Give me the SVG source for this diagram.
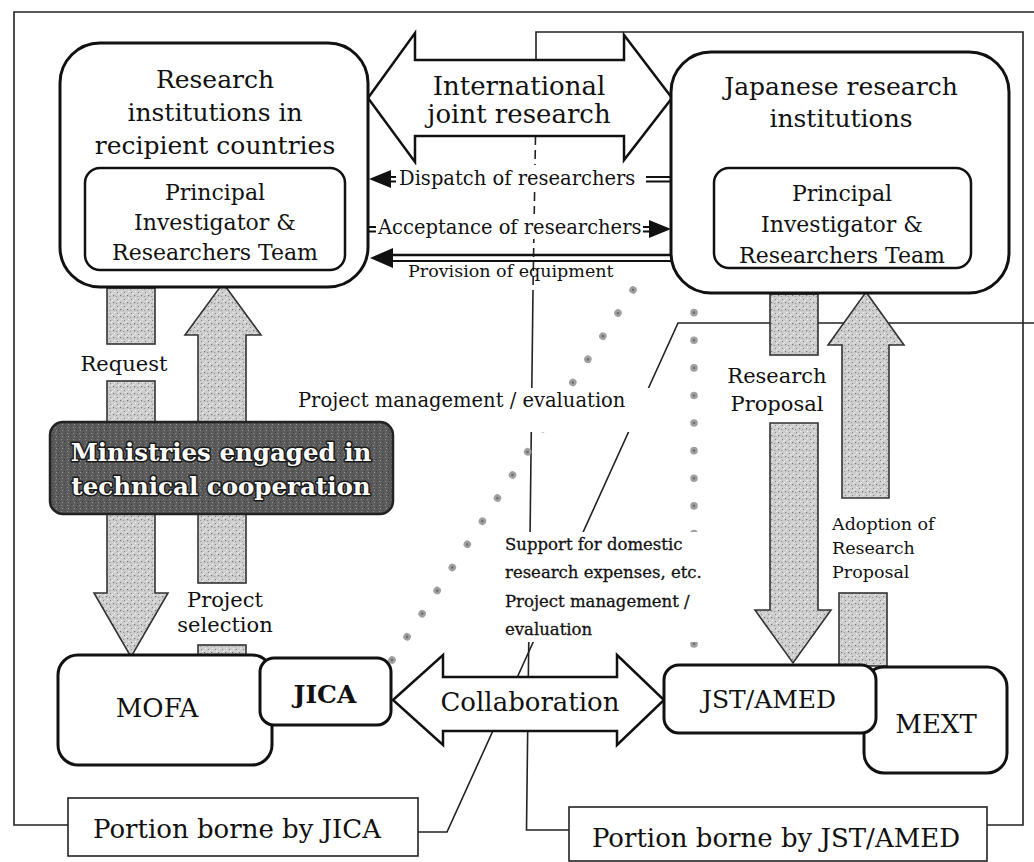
<svg xmlns="http://www.w3.org/2000/svg" width="1034" height="862" viewBox="0 0 1034 862">
<defs>
  <pattern id="stip" width="7" height="7" patternUnits="userSpaceOnUse">
    <rect width="7" height="7" fill="#cdcdcd"/>
    <rect x="1" y="1" width="1.2" height="1.2" fill="#777"/>
    <rect x="4" y="2" width="1.2" height="1" fill="#999"/>
    <rect x="2" y="4" width="1.2" height="1.2" fill="#f2f2f2"/>
    <rect x="5" y="5" width="1" height="1" fill="#858585"/>
    <rect x="0" y="6" width="1.2" height="1" fill="#ececec"/>
    <rect x="6" y="0" width="1" height="1" fill="#eee"/>
  </pattern>
  <pattern id="dark" width="6" height="6" patternUnits="userSpaceOnUse">
    <rect width="6" height="6" fill="#5b5b5b"/>
    <rect x="1" y="1" width="1.2" height="1" fill="#8a8a8a"/>
    <rect x="4" y="3" width="1" height="1.2" fill="#3c3c3c"/>
    <rect x="2" y="4" width="1" height="1" fill="#999"/>
    <rect x="5" y="0" width="1" height="1" fill="#444"/>
  </pattern>
</defs>
<style>
  text { font-family: "DejaVu Serif", "Liberation Serif", serif; fill: #111; }
  .mid { text-anchor: middle; }
  .box { fill: #fff; stroke: #111; stroke-width: 3; }
  .inner { fill: #fff; stroke: #111; stroke-width: 2.5; }
  .bnd { fill: none; stroke: #222; stroke-width: 1.6; }
  .dash { fill: none; stroke: #222; stroke-width: 1.6; stroke-dasharray: 9 5; }
  .shade { fill: url(#stip); stroke: #333; stroke-width: 1.6; }
  .big { fill: #fff; stroke: #111; stroke-width: 2.5; stroke-linejoin: miter; }
  .dl { stroke: #111; stroke-width: 2; }
  .dots { fill: none; stroke: #a0a0a0; stroke-width: 7.5; stroke-linecap: round; stroke-dasharray: 0.1 27.5; }
  .dotc { fill: none; stroke: #6e6e6e; stroke-width: 2.5; stroke-linecap: round; stroke-dasharray: 0.1 27.5; }
  .bg { fill: #fff; }
  .t25 { font-size: 25px; }
  .t26 { font-size: 26px; }
  .t22 { font-size: 22px; }
  .t21 { font-size: 21px; }
  .t19 { font-size: 19.5px; }
  .t17 { font-size: 17.5px; }
  .t16 { font-size: 16.5px; stroke: #111; stroke-width: 0.3; }
  .min { font-size: 24.5px; font-weight: bold; fill: #fff; stroke: #1a1a1a; stroke-width: 3; paint-order: stroke; stroke-linejoin: round; }
</style>

<g id="connectors">
  <!-- JICA portion boundary -->
  <polyline class="bnd" points="68,825 14,825 14,12 1034,12"/>
  <polyline class="bnd" points="1034,323 678,323 447,832 418,832"/>
  <!-- JST/AMED portion boundary -->
  <polyline class="bnd" points="536,60 536,32 1023,32 1023,825 987,825"/>
  <line class="dash" x1="535.5" y1="136" x2="533" y2="290"/>
  <polyline class="bnd" points="533,290 526.5,830 569,830"/>

  <!-- dotted lines -->
  <line class="dots" x1="392" y1="660" x2="646" y2="270"/>
  <line class="dotc" x1="392" y1="660" x2="646" y2="270"/>
  <line class="dots" x1="694" y1="285" x2="694" y2="652"/>
  <line class="dotc" x1="694" y1="285" x2="694" y2="652"/>

  <!-- shaded arrows: Request -->
  <rect class="shade" x="107" y="288" width="48" height="56"/>
  <rect class="shade" x="107" y="381" width="48" height="45"/>
  <polygon class="shade" points="107,510 155,510 155,593 168,593 131,657 94,593 107,593"/>
  <!-- Project selection -->
  <polygon class="shade" points="223,283 261,335 246,335 246,426 198,426 198,335 185,335"/>
  <rect class="shade" x="198" y="510" width="48" height="73"/>
  <rect class="shade" x="198" y="645" width="48" height="10"/>
  <!-- Research Proposal -->
  <rect class="shade" x="770" y="294" width="48" height="61"/>
  <polygon class="shade" points="770,423 818,423 818,610 831,610 793,663 755,610 770,610"/>
  <!-- Adoption of Research Proposal -->
  <polygon class="shade" points="866,292 904,345 889,345 889,498 842,498 842,345 828,345"/>
  <rect class="shade" x="839" y="593" width="48" height="73"/>

  <!-- label backgrounds -->
  <rect class="bg" x="294" y="388" width="358" height="44"/>
  <rect class="bg" x="500" y="532" width="198" height="110"/>

  <!-- International joint research -->
  <path class="big" d="M368,98 L415,33 L415,60 L624,60 L624,35 L672,98 L624,160 L624,136 L415,136 L415,162 Z"/>
  <text class="t26 mid" x="519" y="95">International</text>
  <text class="t26 mid" x="519" y="123">joint research</text>

  <!-- Collaboration -->
  <path class="big" d="M393,700 L443,655 L443,677 L617,677 L617,655 L664,700 L617,745 L617,731 L443,731 L443,745 Z"/>
  <text class="t26 mid" x="530" y="711">Collaboration</text>

  <!-- Dispatch of researchers -->
  <line class="dl" x1="386" y1="177" x2="671" y2="177"/>
  <line class="dl" x1="386" y1="181.5" x2="671" y2="181.5"/>
  <polygon points="369,179 391,170 391,188" fill="#111"/>
  <rect class="bg" x="396" y="165" width="250" height="25"/>
  <text class="t19" x="399" y="185">Dispatch of researchers</text>

  <!-- Acceptance of researchers -->
  <line class="dl" x1="368" y1="227" x2="652" y2="227"/>
  <line class="dl" x1="368" y1="231.5" x2="652" y2="231.5"/>
  <polygon points="671,229 649,220 649,238" fill="#111"/>
  <rect class="bg" x="376" y="214" width="267" height="25"/>
  <text class="t19" x="378" y="234">Acceptance of researchers</text>

  <!-- Provision of equipment -->
  <line x1="390" y1="255" x2="672" y2="255" stroke="#111" stroke-width="2.6"/>
  <line x1="390" y1="261" x2="672" y2="261" stroke="#111" stroke-width="2"/>
  <polygon points="370,258 393,248 393,268" fill="#111"/>
  <text class="t17" x="408" y="277">Provision of equipment</text>

  <!-- arrow labels -->
  <text class="t21 mid" x="124" y="371">Request</text>
  <text class="t21 mid" x="225" y="607">Project</text>
  <text class="t21 mid" x="225" y="632">selection</text>
  <text class="t21 mid" x="777" y="383">Research</text>
  <text class="t21 mid" x="777" y="411">Proposal</text>
  <text class="t17" x="832" y="530">Adoption of</text>
  <text class="t17" x="832" y="554">Research</text>
  <text class="t17" x="832" y="578">Proposal</text>
  <text class="t19" x="298" y="407">Project management / evaluation</text>
  <text class="t16" x="505" y="550">Support for domestic</text>
  <text class="t16" x="505" y="578">research expenses, etc.</text>
  <text class="t16" x="505" y="607">Project management /</text>
  <text class="t16" x="505" y="635">evaluation</text>
</g>

<g id="recipient-institutions">
  <rect class="box" x="60" y="43" width="308" height="244" rx="40"/>
  <text class="t25 mid" x="215" y="88">Research</text>
  <text class="t25 mid" x="215" y="121">institutions in</text>
  <text class="t25 mid" x="215" y="154">recipient countries</text>
</g>
<g id="recipient-team">
  <rect class="inner" x="85" y="168" width="260" height="102" rx="15"/>
  <text class="t22 mid" x="215" y="200">Principal</text>
  <text class="t22 mid" x="215" y="230">Investigator &amp;</text>
  <text class="t22 mid" x="215" y="260">Researchers Team</text>
</g>

<g id="japanese-institutions">
  <rect class="box" x="671" y="52" width="338" height="241" rx="40"/>
  <text class="t25 mid" x="841" y="95">Japanese research</text>
  <text class="t25 mid" x="841" y="127">institutions</text>
</g>
<g id="japanese-team">
  <rect class="inner" x="714" y="168" width="257" height="100" rx="15"/>
  <text class="t22 mid" x="842" y="201">Principal</text>
  <text class="t22 mid" x="842" y="232">Investigator &amp;</text>
  <text class="t22 mid" x="842" y="263">Researchers Team</text>
</g>

<g id="ministries">
  <rect x="50" y="422" width="343" height="92" rx="13" fill="url(#dark)" stroke="#222" stroke-width="2.5"/>
  <text class="min mid" x="221" y="461">Ministries engaged in</text>
  <text class="min mid" x="221" y="495">technical cooperation</text>
</g>

<g id="mofa">
  <rect class="box" x="58" y="655" width="214" height="110" rx="20"/>
  <text class="t26 mid" x="157" y="717">MOFA</text>
</g>
<g id="jica">
  <rect class="box" x="260" y="658" width="131" height="67" rx="14"/>
  <text class="t25 mid" x="325" y="703" font-weight="bold">JICA</text>
</g>

<g id="mext">
  <rect class="box" x="864" y="667" width="143" height="106" rx="20"/>
  <text class="t26 mid" x="936" y="733">MEXT</text>
</g>
<g id="jst-amed">
  <rect class="box" x="664" y="665" width="212" height="68" rx="15"/>
  <text class="t25 mid" x="769" y="708">JST/AMED</text>
</g>

<g id="portion-jica">
  <rect x="68" y="798" width="350" height="58" fill="#fff" stroke="#222" stroke-width="1.6"/>
  <text class="t26 mid" x="237" y="838">Portion borne by JICA</text>
</g>
<g id="portion-jst">
  <rect x="569" y="807" width="418" height="54" fill="#fff" stroke="#222" stroke-width="1.6"/>
  <text class="t26 mid" x="776" y="847">Portion borne by JST/AMED</text>
</g>
</svg>
